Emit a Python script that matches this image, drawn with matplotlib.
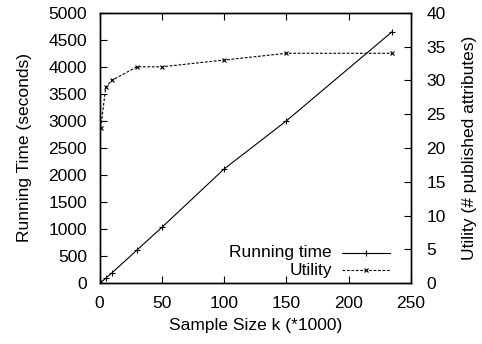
import matplotlib
matplotlib.use("Agg")
import matplotlib.pyplot as plt
from matplotlib.lines import Line2D

# data
sample_k     = [1, 5, 10, 30, 50, 100, 150, 235]
running_time = [10, 90, 190, 610, 1030, 2110, 3000, 4650]
utility      = [23, 29, 30, 32, 32, 33, 34, 34]

x_ticks  = [0, 50, 100, 150, 200, 250]
y1_ticks = list(range(0, 5001, 500))
y2_ticks = list(range(0, 41, 5))

plt.rcParams["font.family"] = ["Liberation Sans", "DejaVu Sans"]
plt.rcParams["font.size"] = 12.5

fig = plt.figure(figsize=(4.82, 3.44), dpi=100)
ax = fig.add_axes([0.2065, 0.177, 0.646, 0.786])
ax2 = ax.twinx()

ax.plot(sample_k, running_time, color="black", lw=0.8, marker="+", ms=4, mew=0.8)
ax2.plot(sample_k, utility, color="black", lw=0.8, ls=(0, (2.5, 1.5)), marker="x", ms=3.5, mew=0.8)

ax.set_xlim(0, 250)
ax.set_ylim(0, 5000)
ax2.set_ylim(0, 40)
ax.set_xticks(x_ticks)
ax.set_yticks(y1_ticks)
ax2.set_yticks(y2_ticks)

ax.tick_params(axis="x", direction="in", top=True, length=5, width=0.8, pad=9)
ax.tick_params(axis="y", direction="in", right=False, length=5, width=0.8, pad=9)
ax2.tick_params(axis="y", direction="in", length=5, width=0.8, pad=11)
for a in (ax, ax2):
    for s in a.spines.values():
        s.set_linewidth(1.0)

ax.set_xlabel("Sample Size k (*1000)", labelpad=5)
ax.set_ylabel("Running Time (seconds)", labelpad=12)
ax2.set_ylabel("Utility (# published attributes)", labelpad=12)

# gnuplot-style key: right-aligned text, sample to the right
labels = ["Running time", "Utility"]
styles = [dict(ls="-", marker="+", ms=4), dict(ls=(0, (2.5, 1.5)), marker="x", ms=3.5)]
for i, (lab, st) in enumerate(zip(labels, styles)):
    yk = 0.112 - i * 0.064
    ax.text(0.746, yk, lab, transform=ax.transAxes, ha="right", va="center")
    ax.add_line(Line2D([0.78, 0.855, 0.932], [yk, yk, yk], transform=ax.transAxes,
                       color="black", lw=0.8, mew=0.8, markevery=[1], **st))

fig.savefig("out.png", dpi=100)
